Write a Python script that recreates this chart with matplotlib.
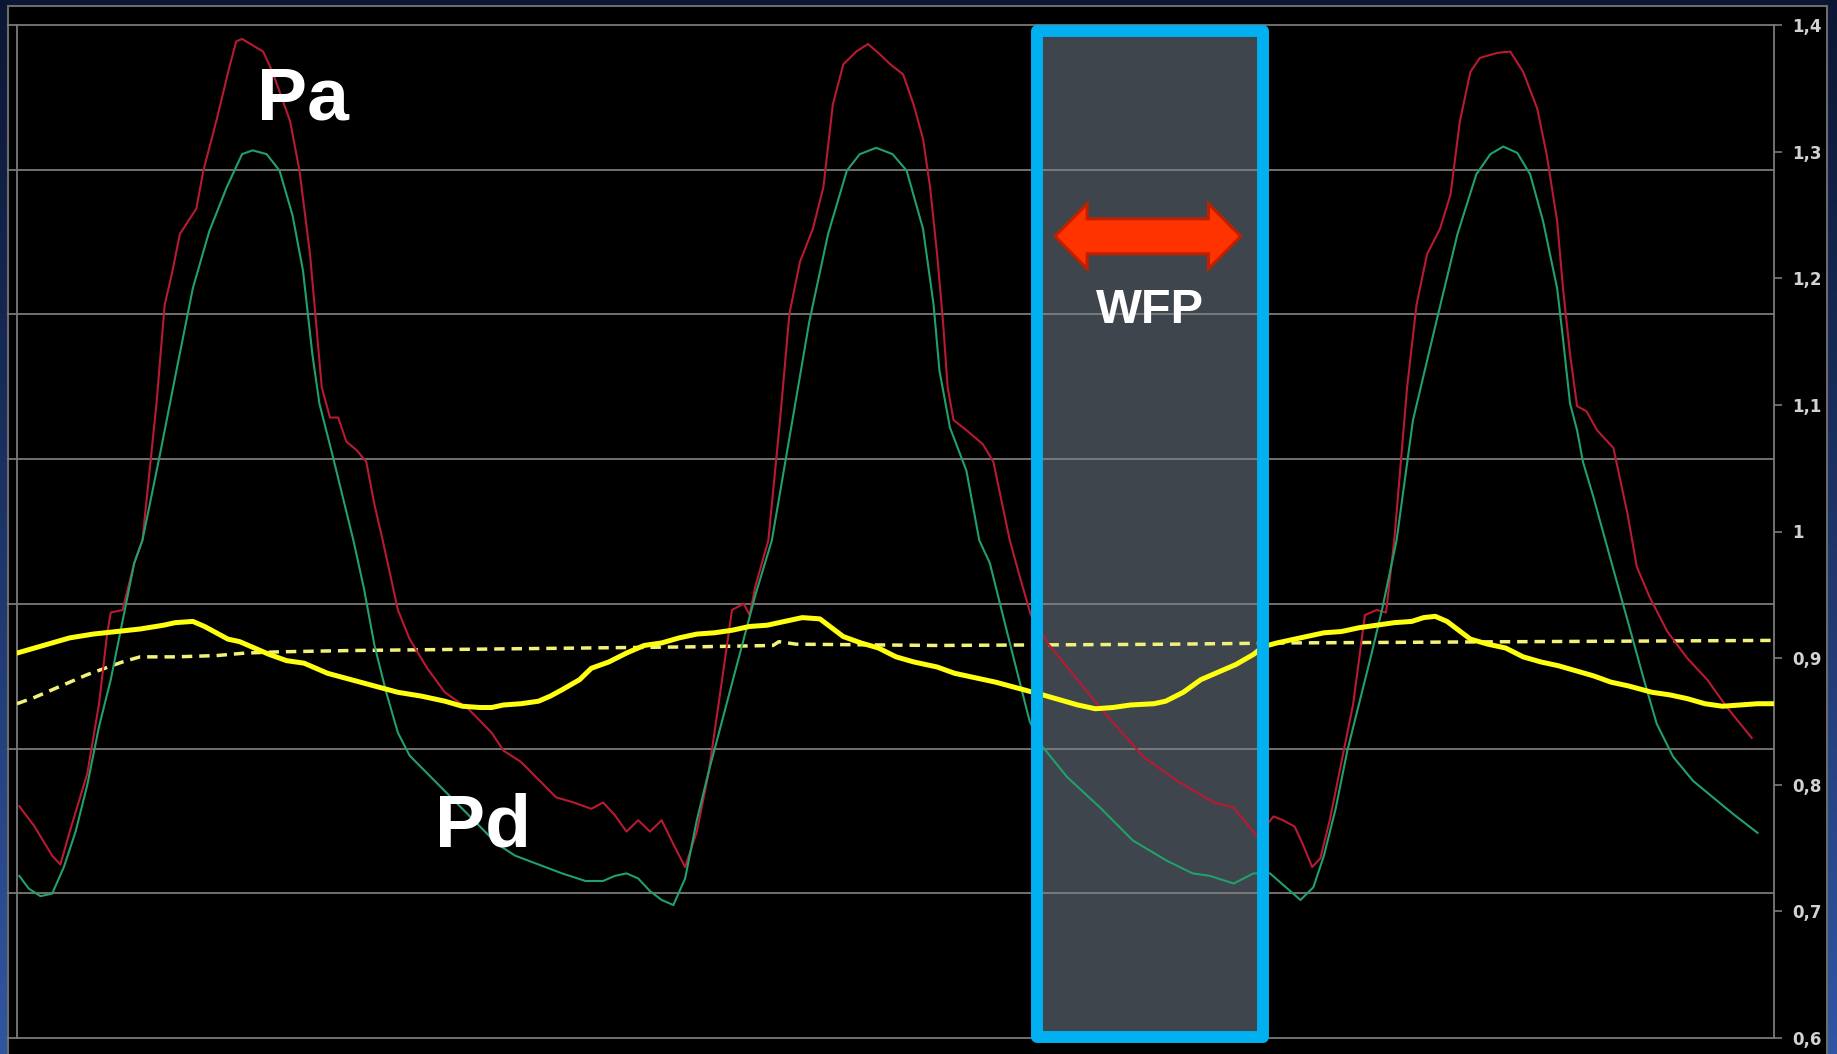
import matplotlib.pyplot as plt
import numpy as np
from matplotlib.patches import Rectangle, Polygon

# time in ms, ratio / pressure values as on the right axis
pa_t = [4, 30, 60, 74, 90, 120, 140, 154, 160, 180, 200, 214, 238, 252, 264, 278, 306, 318, 340, 362,
        374, 384, 402, 420, 436, 466, 482, 500, 510, 520, 534, 548, 562, 580, 596, 610, 624, 650, 670, 700,
        730, 770, 810, 830, 860, 890, 920, 950, 980, 1000, 1020, 1040, 1060, 1080, 1100, 1120, 1140, 1160, 1180, 1200,
        1220, 1240, 1250, 1260, 1282, 1302, 1318, 1336, 1358, 1376, 1392, 1410, 1432, 1452, 1472, 1490, 1512, 1530, 1546, 1558,
        1570, 1580, 1588, 1598, 1620, 1648, 1666, 1694, 1710, 1730, 1760, 1848, 1922, 1980, 2042, 2076, 2116, 2144, 2160, 2180,
        2194, 2210, 2224, 2240, 2260, 2280, 2300, 2320, 2336, 2350, 2372, 2388, 2406, 2428, 2446, 2462, 2480, 2496, 2526, 2548,
        2570, 2594, 2610, 2628, 2638, 2650, 2662, 2678, 2696, 2724, 2736, 2748, 2764, 2786, 2816, 2850, 2884, 2918, 2960]
pa_v = [0.783, 0.767, 0.744, 0.737, 0.763, 0.809, 0.864, 0.920, 0.936, 0.938, 0.975, 0.993, 1.101, 1.179, 1.203, 1.235, 1.255, 1.285, 1.324, 1.366,
        1.387, 1.389, 1.384, 1.379, 1.363, 1.324, 1.285, 1.219, 1.166, 1.114, 1.090, 1.090, 1.071, 1.064, 1.055, 1.021, 0.993, 0.938, 0.915, 0.892,
        0.873, 0.860, 0.841, 0.827, 0.818, 0.804, 0.790, 0.786, 0.781, 0.786, 0.776, 0.763, 0.772, 0.763, 0.772, 0.753, 0.735, 0.763, 0.809, 0.873,
        0.938, 0.943, 0.934, 0.957, 0.993, 1.088, 1.172, 1.213, 1.239, 1.272, 1.337, 1.369, 1.379, 1.385, 1.377, 1.369, 1.361, 1.337, 1.310, 1.272,
        1.219, 1.166, 1.114, 1.088, 1.080, 1.069, 1.055, 0.993, 0.966, 0.934, 0.911, 0.861, 0.822, 0.803, 0.786, 0.782, 0.759, 0.775, 0.772, 0.767,
        0.753, 0.735, 0.742, 0.772, 0.818, 0.864, 0.934, 0.938, 0.936, 0.993, 1.114, 1.179, 1.219, 1.239, 1.266, 1.324, 1.363, 1.374, 1.378, 1.379,
        1.363, 1.334, 1.298, 1.245, 1.192, 1.140, 1.099, 1.095, 1.080, 1.066, 1.040, 1.014, 0.972, 0.948, 0.921, 0.900, 0.883, 0.861, 0.837]

pd_t = [4, 20, 40, 60, 80, 100, 120, 140, 160, 180, 200, 214, 244, 272, 300, 328, 358, 384, 402, 426,
        448, 470, 488, 504, 516, 538, 574, 592, 610, 630, 650, 670, 700, 730, 760, 790, 820, 850, 890, 930,
        970, 1000, 1020, 1040, 1060, 1080, 1100, 1120, 1140, 1160, 1180, 1200, 1220, 1240, 1260, 1288, 1318, 1352, 1384, 1416,
        1438, 1466, 1494, 1518, 1546, 1564, 1574, 1592, 1620, 1642, 1660, 1680, 1700, 1728, 1750, 1792, 1848, 1904, 1962, 2006,
        2036, 2076, 2110, 2138, 2190, 2212, 2230, 2250, 2270, 2290, 2310, 2330, 2354, 2382, 2422, 2458, 2490, 2514, 2536, 2560,
        2582, 2604, 2628, 2638, 2650, 2662, 2672, 2690, 2718, 2748, 2776, 2798, 2826, 2860, 2894, 2928, 2970]
pd_v = [0.728, 0.718, 0.712, 0.714, 0.735, 0.763, 0.800, 0.846, 0.883, 0.929, 0.975, 0.993, 1.061, 1.127, 1.192, 1.237, 1.272, 1.298, 1.301, 1.298,
        1.285, 1.250, 1.206, 1.140, 1.101, 1.061, 0.993, 0.955, 0.910, 0.873, 0.841, 0.823, 0.809, 0.795, 0.781, 0.767, 0.753, 0.744, 0.737, 0.730,
        0.724, 0.724, 0.728, 0.730, 0.726, 0.716, 0.709, 0.705, 0.726, 0.772, 0.810, 0.845, 0.880, 0.915, 0.950, 0.993, 1.074, 1.166, 1.235, 1.285,
        1.298, 1.303, 1.298, 1.285, 1.239, 1.179, 1.127, 1.082, 1.048, 0.993, 0.975, 0.938, 0.901, 0.850, 0.830, 0.806, 0.782, 0.756, 0.740, 0.730,
        0.728, 0.722, 0.730, 0.730, 0.709, 0.719, 0.744, 0.781, 0.827, 0.864, 0.901, 0.940, 0.993, 1.088, 1.166, 1.235, 1.282, 1.298, 1.304, 1.299,
        1.282, 1.245, 1.192, 1.152, 1.101, 1.080, 1.055, 1.027, 0.980, 0.930, 0.883, 0.848, 0.822, 0.803, 0.790, 0.777, 0.762]

ratio_t = [0, 30, 60, 90, 130, 170, 210, 250, 270, 300, 320, 340, 360, 380, 400, 430, 460, 490, 530, 570,
           610, 650, 690, 730, 760, 790, 810, 830, 860, 890, 910, 930, 960, 980, 1010, 1040, 1070, 1100, 1130, 1160,
           1190, 1220, 1250, 1280, 1310, 1340, 1370, 1390, 1410, 1440, 1470, 1500, 1530, 1570, 1600, 1630, 1670, 1710, 1750, 1780,
           1810, 1840, 1870, 1900, 1940, 1960, 1990, 2020, 2050, 2080, 2110, 2126, 2150, 2170, 2200, 2230, 2260, 2290, 2320, 2350,
           2380, 2400, 2420, 2440, 2460, 2480, 2510, 2540, 2570, 2600, 2630, 2660, 2690, 2720, 2750, 2790, 2820, 2850, 2880, 2910,
           2940, 2970, 2998]
ratio_v = [0.904, 0.908, 0.912, 0.916, 0.919, 0.921, 0.923, 0.926, 0.928, 0.929, 0.925, 0.920, 0.915, 0.913, 0.909, 0.903, 0.898, 0.896, 0.888, 0.883,
           0.878, 0.873, 0.870, 0.866, 0.862, 0.861, 0.861, 0.863, 0.864, 0.866, 0.870, 0.875, 0.883, 0.892, 0.897, 0.904, 0.910, 0.912, 0.916, 0.919,
           0.920, 0.922, 0.925, 0.926, 0.929, 0.932, 0.931, 0.924, 0.917, 0.912, 0.908, 0.901, 0.897, 0.893, 0.888, 0.885, 0.881, 0.876, 0.871, 0.867,
           0.863, 0.860, 0.861, 0.863, 0.864, 0.866, 0.873, 0.883, 0.889, 0.895, 0.903, 0.909, 0.912, 0.914, 0.917, 0.920, 0.921, 0.924, 0.926, 0.928,
           0.929, 0.932, 0.933, 0.929, 0.922, 0.915, 0.911, 0.908, 0.901, 0.897, 0.894, 0.890, 0.886, 0.881, 0.878, 0.873, 0.871, 0.868, 0.864, 0.862,
           0.863, 0.864, 0.864]

mean_t = [0, 30, 60, 90, 120, 150, 180, 210, 270, 340, 390, 450, 570, 770, 970, 1170, 1290, 1300, 1330, 1570, 1970, 2170, 2570, 2998]
mean_v = [0.864, 0.869, 0.875, 0.881, 0.887, 0.892, 0.897, 0.901, 0.901, 0.902, 0.904, 0.905, 0.906, 0.907, 0.908, 0.909, 0.910, 0.913, 0.911, 0.910, 0.911, 0.912, 0.913, 0.914]

wfp_window = [1740, 2126]
right_ticks = [0.6, 0.7, 0.8, 0.9, 1.0, 1.1, 1.2, 1.3, 1.4]
tick_labels = ["0,6", "0,7", "0,8", "0,9", "1", "1,1", "1,2", "1,3", "1,4"]

W, H = 1837, 1054
fig = plt.figure(figsize=(W / 100, H / 100), dpi=100)

# navy gradient background
bg = fig.add_axes([0, 0, 1, 1])
yy = np.linspace(0, 1, 300)[:, None]
xx = np.linspace(0, 1, 300)[None, :]
top = np.array([11, 22, 52]) / 255
bot = np.array([48, 86, 162]) / 255
f = (yy ** 1.1) * (0.85 + 0.15 * np.abs(xx - 0.5) * 2)
grad = top[None, None, :] * (1 - f[..., None]) + bot[None, None, :] * f[..., None]
bg.imshow(grad, extent=[0, 1, 0, 1], aspect="auto", origin="upper")
bg.add_patch(Rectangle((8 / W, -0.02), (1827 - 8) / W, 1 - 6 / H + 0.02,
                       facecolor="black", edgecolor="#6b6b6b", lw=1.5))
bg.set_xlim(0, 1)
bg.set_ylim(0, 1)
bg.axis("off")

ax = fig.add_axes([17 / W, 1 - 1038 / H, (1774 - 17) / W, (1038 - 25) / H])
ax.set_facecolor("none")
ax.set_xlim(0, 2998)
ax.set_ylim(0.6, 1.4)

# grid lines of the hidden left scale (7 divisions)
for g in np.linspace(0.6, 1.4, 8):
    ax.axhline(g, xmin=-0.005, xmax=1, color="#838383", lw=1.2, zorder=2, clip_on=False)

# WFP window
ax.add_patch(Rectangle((wfp_window[0], 0.6008), wfp_window[1] - wfp_window[0], 1.3956 - 0.6008,
                       facecolor="#3e454c", edgecolor="none", zorder=1, clip_on=False))

ax.plot(mean_t, mean_v, color="#f2f27a", lw=2.5, dashes=(3, 2), zorder=3)
ax.plot(pa_t, pa_v, color="#b81a32", lw=1.5, zorder=4, solid_joinstyle="round")
ax.plot(pd_t, pd_v, color="#22a06b", lw=1.5, zorder=4, solid_joinstyle="round")
ax.plot(ratio_t, ratio_v, color="#ffff10", lw=3.6, zorder=5, solid_capstyle="round",
        solid_joinstyle="round")

ax.add_patch(Rectangle((wfp_window[0], 0.6008), wfp_window[1] - wfp_window[0], 1.3956 - 0.6008,
                       facecolor="none", edgecolor="#00b0f0", lw=8.6, joinstyle="round",
                       zorder=6, clip_on=False))

# double arrow
cx0, cx1, cy = 1771, 2088, 1.2331
sh, hh, hl = 0.0138, 0.0257, 55
arrow = [(cx0, cy), (cx0 + hl, cy + hh), (cx0 + hl, cy + sh), (cx1 - hl, cy + sh), (cx1 - hl, cy + hh),
         (cx1, cy), (cx1 - hl, cy - hh), (cx1 - hl, cy - sh), (cx0 + hl, cy - sh), (cx0 + hl, cy - hh)]
ax.add_patch(Polygon(arrow, closed=True, facecolor="#ff3300", edgecolor="#c02000", lw=2.2,
                     joinstyle="miter", zorder=7))

ax.text(1933, 1.1646, "WFP", color="white", fontsize=35, fontweight="bold",
        family="Liberation Sans", ha="center", va="baseline", zorder=8)
ax.text(410, 1.3254, "Pa", color="white", fontsize=54, fontweight="bold",
        family="Liberation Sans", ha="left", va="baseline", zorder=8)
ax.text(714, 0.7514, "Pd", color="white", fontsize=54, fontweight="bold",
        family="Liberation Sans", ha="left", va="baseline", zorder=8)

for s in ["top", "bottom"]:
    ax.spines[s].set_visible(False)
for s in ["left", "right"]:
    ax.spines[s].set_color("#7a7a7a")
    ax.spines[s].set_linewidth(1.3)
ax.set_xticks([])
ax.yaxis.tick_right()
ax.set_yticks(right_ticks)
ax.set_yticklabels(tick_labels)
ax.tick_params(axis="y", colors="#7a7a7a", labelcolor="#d2d2d2", length=6, width=1.2,
               pad=7, labelsize=12)
for lab in ax.get_yticklabels():
    lab.set_fontweight("bold")

fig.savefig("out.png", dpi=100, facecolor=fig.get_facecolor())
